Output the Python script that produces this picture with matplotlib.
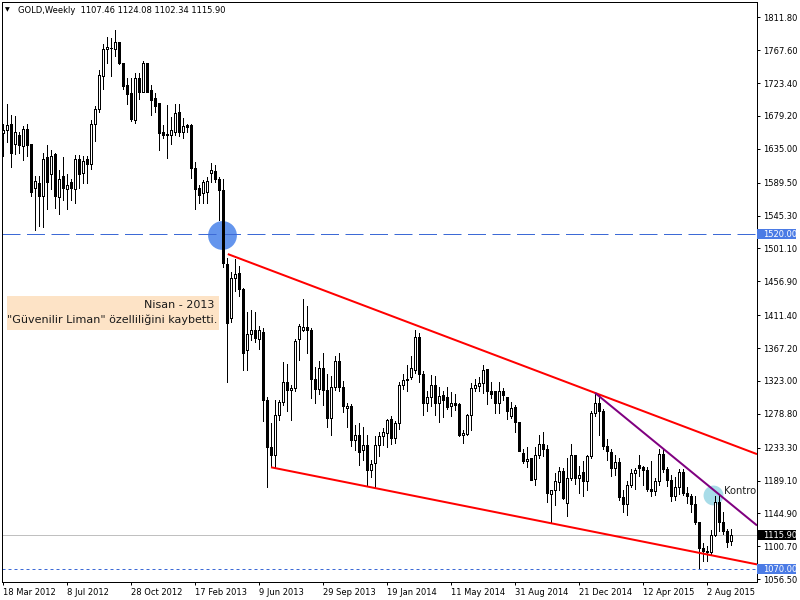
import matplotlib
matplotlib.use("Agg")
import matplotlib.pyplot as plt
from matplotlib.patches import Rectangle

# weekly GOLD bars, first bar = week of 18 Mar 2012
opens = [1656, 1661, 1668, 1641, 1654, 1639, 1662, 1641, 1583, 1589, 1572, 1624, 1601, 1628, 1570, 1598,
         1581, 1590, 1581, 1622, 1602, 1621, 1614, 1668, 1689, 1733, 1769, 1770, 1769, 1778, 1751, 1721,
         1710, 1674, 1730, 1712, 1750, 1714, 1704, 1696, 1657, 1655, 1654, 1658, 1684, 1657, 1667, 1667,
         1609, 1582, 1575, 1577, 1603, 1605, 1595, 1580, 1480, 1407, 1462, 1468, 1447, 1365, 1386, 1391,
         1380, 1389, 1298, 1234, 1223, 1277, 1295, 1322, 1311, 1314, 1379, 1392, 1396, 1392, 1326, 1312,
         1340, 1311, 1273, 1315, 1350, 1315, 1287, 1290, 1243, 1251, 1230, 1237, 1203, 1213, 1237, 1249,
         1253, 1272, 1246, 1266, 1318, 1324, 1328, 1338, 1382, 1333, 1294, 1302, 1318, 1294, 1304, 1301,
         1289, 1294, 1292, 1250, 1252, 1277, 1314, 1316, 1320, 1339, 1310, 1309, 1293, 1309, 1301, 1276,
         1288, 1268, 1226, 1215, 1219, 1191, 1223, 1238, 1231, 1171, 1176, 1187, 1202, 1159, 1192, 1223,
         1193, 1201, 1189, 1222, 1280, 1294, 1283, 1235, 1228, 1206, 1214, 1167, 1157, 1183, 1199, 1210,
         1207, 1203, 1178, 1175, 1189, 1225, 1205, 1190, 1169, 1180, 1201, 1173, 1168, 1158, 1133, 1098,
         1095, 1093, 1116, 1160, 1134, 1122, 1107.46]
highs = [1668, 1695, 1681, 1679, 1657, 1666, 1669, 1642, 1598, 1598, 1630, 1640, 1633, 1630, 1606, 1624,
         1601, 1594, 1627, 1627, 1625, 1625, 1674, 1693, 1741, 1776, 1785, 1784, 1795, 1778, 1751, 1730,
         1730, 1737, 1737, 1753, 1750, 1721, 1710, 1696, 1667, 1694, 1678, 1695, 1695, 1676, 1668, 1668,
         1618, 1586, 1593, 1597, 1616, 1613, 1597, 1595, 1488, 1470, 1487, 1477, 1448, 1416, 1419, 1416,
         1397, 1394, 1301, 1267, 1297, 1298, 1348, 1346, 1318, 1380, 1399, 1433, 1424, 1394, 1342, 1350,
         1361, 1333, 1330, 1356, 1361, 1323, 1294, 1292, 1264, 1266, 1261, 1250, 1217, 1249, 1255, 1260,
         1272, 1276, 1269, 1322, 1332, 1345, 1356, 1392, 1388, 1336, 1309, 1331, 1330, 1315, 1309, 1315,
         1308, 1306, 1294, 1257, 1279, 1320, 1325, 1329, 1345, 1339, 1321, 1310, 1321, 1314, 1302, 1295,
         1291, 1268, 1232, 1234, 1220, 1234, 1250, 1255, 1237, 1177, 1199, 1208, 1206, 1220, 1238, 1223,
         1209, 1215, 1223, 1283, 1307, 1304, 1285, 1245, 1232, 1224, 1220, 1176, 1188, 1205, 1206, 1224,
         1209, 1208, 1215, 1193, 1232, 1232, 1207, 1196, 1194, 1205, 1205, 1180, 1171, 1168, 1134, 1105,
         1101, 1123, 1168, 1170, 1147, 1124, 1124.08]
lows = [1626, 1644, 1610, 1628, 1629, 1620, 1625, 1571, 1526, 1531, 1530, 1554, 1581, 1556, 1547, 1566,
        1554, 1566, 1562, 1583, 1589, 1589, 1608, 1645, 1684, 1716, 1750, 1733, 1760, 1749, 1715, 1695,
        1672, 1670, 1702, 1712, 1712, 1680, 1685, 1634, 1649, 1623, 1641, 1654, 1652, 1649, 1657, 1596,
        1554, 1562, 1562, 1562, 1591, 1590, 1539, 1476, 1321, 1402, 1444, 1437, 1338, 1338, 1378, 1376,
        1366, 1269, 1180, 1207, 1208, 1270, 1291, 1283, 1271, 1309, 1351, 1390, 1360, 1300, 1294, 1305,
        1291, 1261, 1251, 1311, 1310, 1281, 1261, 1236, 1230, 1210, 1217, 1183, 1194, 1181, 1222, 1237,
        1234, 1238, 1240, 1258, 1312, 1310, 1325, 1334, 1321, 1277, 1283, 1290, 1277, 1268, 1275, 1286,
        1276, 1284, 1249, 1240, 1250, 1257, 1310, 1310, 1307, 1292, 1300, 1280, 1280, 1298, 1272, 1273,
        1255, 1229, 1213, 1208, 1190, 1183, 1220, 1222, 1161, 1134, 1156, 1176, 1165, 1142, 1190, 1184,
        1172, 1169, 1177, 1220, 1276, 1250, 1232, 1217, 1195, 1197, 1163, 1147, 1143, 1180, 1178, 1195,
        1183, 1175, 1168, 1170, 1183, 1201, 1182, 1162, 1163, 1171, 1170, 1159, 1147, 1131, 1072, 1081,
        1081, 1091, 1114, 1122, 1117, 1100, 1102.34]
closes = [1660, 1667, 1629, 1657, 1640, 1662, 1640, 1577, 1592, 1571, 1622, 1591, 1625, 1571, 1595, 1582,
          1587, 1583, 1621, 1601, 1619, 1614, 1669, 1689, 1734, 1769, 1772, 1771, 1778, 1751, 1719, 1709,
          1675, 1730, 1712, 1750, 1712, 1701, 1693, 1656, 1653, 1654, 1661, 1683, 1657, 1666, 1665, 1609,
          1581, 1573, 1590, 1592, 1606, 1595, 1580, 1481, 1401, 1462, 1467, 1447, 1360, 1386, 1391, 1381,
          1391, 1298, 1234, 1223, 1277, 1295, 1322, 1311, 1314, 1377, 1397, 1396, 1392, 1326, 1312, 1340,
          1311, 1273, 1315, 1350, 1315, 1289, 1290, 1243, 1250, 1228, 1237, 1203, 1212, 1237, 1249, 1254,
          1271, 1246, 1266, 1318, 1324, 1326, 1340, 1382, 1333, 1294, 1302, 1318, 1294, 1303, 1297, 1288,
          1294, 1291, 1250, 1253, 1277, 1314, 1317, 1320, 1338, 1310, 1306, 1293, 1309, 1304, 1282, 1287,
          1268, 1229, 1215, 1218, 1190, 1223, 1238, 1231, 1173, 1177, 1189, 1202, 1166, 1192, 1223, 1193,
          1197, 1189, 1222, 1280, 1294, 1283, 1235, 1229, 1206, 1214, 1167, 1157, 1183, 1199, 1203, 1206,
          1203, 1178, 1175, 1189, 1225, 1205, 1190, 1169, 1180, 1201, 1173, 1168, 1158, 1133, 1098, 1095,
          1093, 1116, 1160, 1134, 1122, 1107, 1115.90]

date_labels = ["18 Mar 2012", "8 Jul 2012", "28 Oct 2012", "17 Feb 2013", "9 Jun 2013", "29 Sep 2013",
               "19 Jan 2014", "11 May 2014", "31 Aug 2014", "21 Dec 2014", "12 Apr 2015", "2 Aug 2015"]
weeks_per_label = 16
price_ticks = [1811.80, 1767.60, 1723.40, 1679.20, 1635.00, 1589.50, 1545.30, 1501.10, 1456.90,
               1411.40, 1367.20, 1323.00, 1278.80, 1233.30, 1189.10, 1144.90, 1100.70, 1056.50]

support_level = 1520.0
low_level = 1070.0
last_price = 1115.90

# trend lines as (bar index, price) anchor pairs, drawn as rays to the right
upper_channel = ([56.2, 148.0], [1493.6, 1307.0])
lower_channel = ([67.0, 144.25], [1207.0, 1124.0])
short_trend = ([148.0, 176.0], [1307.0, 1183.8])

big_marker = (54.8, 1519.0)
small_marker = (177.6, 1170.0)

X_MIN, X_MAX = -0.25, 188.5
Y_MIN, Y_MAX = 1052.8, 1832.4
PX = 0.72  # one pixel in points at 100 dpi

plt.rcParams['font.family'] = ['DejaVu Sans']

fig = plt.figure(figsize=(8, 6), dpi=100)
ax = fig.add_axes([2 / 800, 18 / 600, 755 / 800, 580 / 600])
ax.set_xlim(X_MIN, X_MAX)
ax.set_ylim(Y_MIN, Y_MAX)

# candles
xs = list(range(len(opens)))
ax.vlines(xs, lows, highs, color='black', lw=PX, zorder=3, antialiased=False)
for i, (o, c) in enumerate(zip(opens, closes)):
    bull = c >= o
    ax.add_patch(Rectangle((i - 0.25, min(o, c)), 0.5, abs(c - o),
                           facecolor='white' if bull else 'black', edgecolor='black',
                           lw=PX, zorder=4, antialiased=False))

# horizontal levels
ax.axhline(support_level, color='#3d6ad6', lw=PX, linestyle=(0, (18, 6.5)), zorder=2)
ax.axhline(low_level, color='#3d6ad6', lw=PX, linestyle=(0, (3, 3)), zorder=2)
ax.axhline(last_price, color='#c0c0c0', lw=PX, zorder=1)

# marker circles
ax.scatter([big_marker[0]], [big_marker[1]], s=430, color='#6495ed', zorder=1.5, linewidths=0)
ax.scatter([small_marker[0]], [small_marker[1]], s=205, color='#a8dce8', zorder=1.5, linewidths=0)


def ray(ax, pts, color):
    (x0, x1), (y0, y1) = pts
    slope = (y1 - y0) / (x1 - x0)
    ax.plot([x0, X_MAX], [y0, y0 + slope * (X_MAX - x0)], color=color, lw=2 * PX,
            zorder=5, solid_capstyle='butt')


ray(ax, upper_channel, '#ff0000')
ray(ax, lower_channel, '#ff0000')
ray(ax, short_trend, '#800080')

# annotation box
ax.add_patch(Rectangle((1.0, 1391.5), 53.0, 45.7, facecolor='#fde3c6', edgecolor='none', zorder=2))
ax.text(52.8, 1421.5, "Nisan - 2013", ha='right', va='baseline', fontsize=8, color='#1a1a1a', zorder=6)
ax.text(53.5, 1400.5, '"Güvenilir Liman" özelliliğini kaybetti.', ha='right', va='baseline',
        fontsize=8, color='#1a1a1a', zorder=6)
ax.text(180.3, 1170.7, "Kontrol", ha='left', va='baseline', fontsize=7.2, color='#222222',
        clip_on=True, zorder=6)

# title
ax.text(0.0073, 0.986, "\u25bc", transform=ax.transAxes, fontsize=4.5, ha='center', va='center')
ax.text(0.0212, 0.986, "GOLD,Weekly  1107.46 1124.08 1102.34 1115.90", transform=ax.transAxes,
        fontsize=6, ha='left', va='center', color='black')

# axes styling
for sp in ax.spines.values():
    sp.set_linewidth(PX)
    sp.set_color('black')
ax.yaxis.tick_right()
ax.set_yticks(price_ticks)
ax.set_yticklabels([f"{p:.2f}" for p in price_ticks])
ax.tick_params(axis='y', direction='out', length=2.5, width=PX, pad=2, labelsize=6)
ax.set_xticks([k * weeks_per_label for k in range(len(date_labels))])
ax.set_xticklabels(date_labels, ha='left')
ax.tick_params(axis='x', direction='out', length=2.5, width=PX, pad=1.5, labelsize=6)

# price boxes on the right axis
ytr = ax.get_yaxis_transform()
box_w = 39 / 755
box_h = 10 * 1.344
for price, fc in [(support_level, '#4b7be5'), (low_level, '#4b7be5'), (last_price, 'black')]:
    ax.add_patch(Rectangle((1.0, price - box_h / 2), box_w, box_h, transform=ytr,
                           facecolor=fc, edgecolor='none', clip_on=False, zorder=7))
    ax.text(1.0 + 6 / 755, price, f"{price:.2f}", transform=ytr, color='white', fontsize=6,
            ha='left', va='center', clip_on=False, zorder=8)

fig.savefig("out.png", dpi=100, facecolor='white')
